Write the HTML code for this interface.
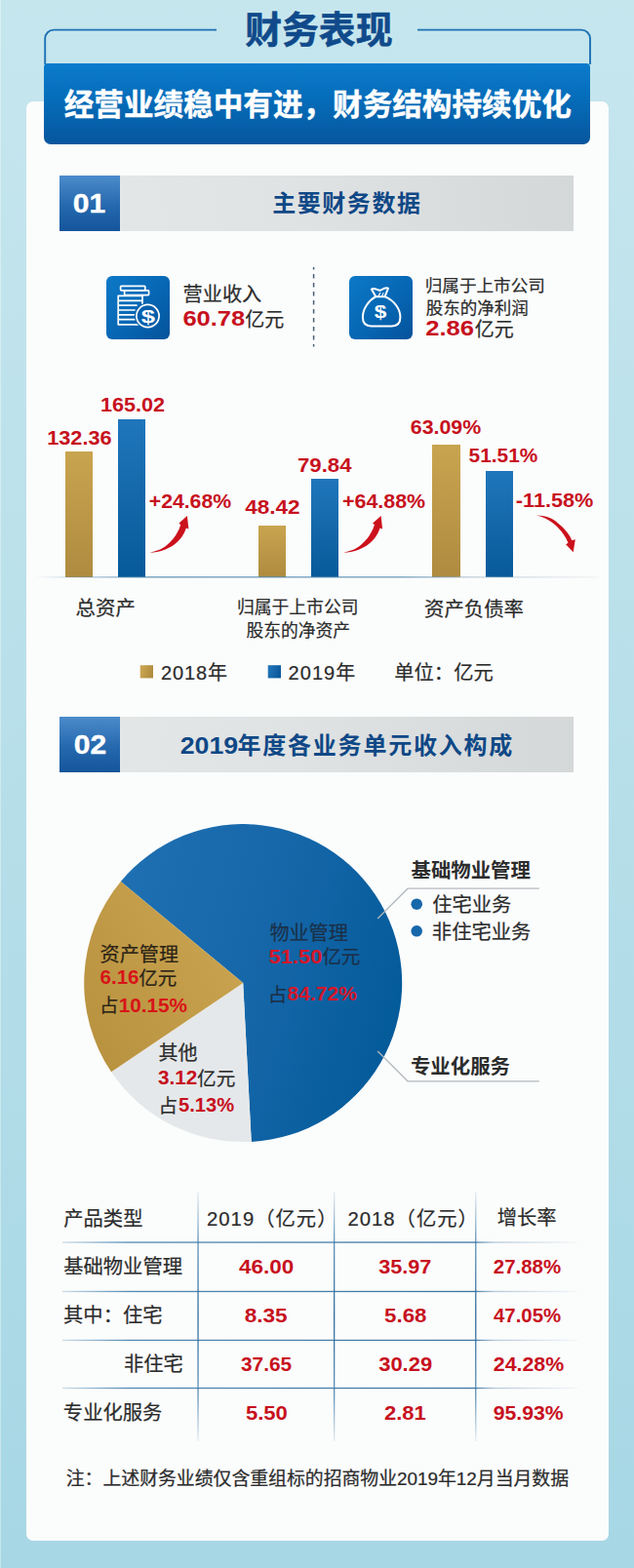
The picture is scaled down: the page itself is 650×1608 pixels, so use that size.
<!DOCTYPE html>
<html lang="zh-CN">
<head>
<meta charset="utf-8">
<title>财务表现</title>
<style>
html,body{margin:0;padding:0}
body{width:650px;height:1608px;position:relative;overflow:hidden;background:linear-gradient(180deg,#c6e6ee 0%,#a7d7e5 100%);font-family:"Liberation Sans",sans-serif}
.card{position:absolute;left:27.2px;top:104px;width:597.3px;height:1475.6px;border-radius:7px;background:#fbfcfc}
.banner{position:absolute;left:45.2px;top:64.8px;width:560px;height:83px;border-radius:4px 4px 7px 7px;background:linear-gradient(180deg,#0c7ccc 0%,#056cb9 45%,#07569d 100%)}
.sec{position:absolute;left:61.4px;width:526.6px;height:57.2px;background:linear-gradient(90deg,#e4e7e8 0%,#e0e3e4 45%,#d5d8d9 100%)}
.sec i{position:absolute;left:0;top:0;width:62.1px;height:57.2px;background:linear-gradient(180deg,#4c8bcb 0%,#2468ad 55%,#15559b 100%)}
.ico{position:absolute;top:283px;width:64.5px;height:64.5px;border-radius:6px;background:linear-gradient(135deg,#0d79c7 0%,#0666b3 55%,#06529a 100%)}
.bar{position:absolute}
.gold{background:linear-gradient(180deg,#c9a44f 0%,#ae8b40 100%)}
.blue{background:linear-gradient(180deg,#2076bb 0%,#075a99 100%)}
.t{position:absolute;color:transparent;white-space:nowrap;line-height:1;margin:0;pointer-events:none}
svg.ov{position:absolute;left:0;top:0}
svg.ov text{font-family:"Liberation Sans","Noto Sans CJK SC",sans-serif}
svg.ov text.b{font-weight:bold}
svg.ov text.n{font-weight:bold;fill:#c7111e}
</style>
</head>
<body>
<div style="position:absolute;left:0;top:0;width:1.2px;height:1608px;background:rgba(255,255,255,.35)"></div>
<div class="card"></div>
<div class="banner"></div>
<div class="sec" style="top:179.5px"><i></i></div>
<div class="sec" style="top:734.8px"><i></i></div>
<div class="ico" style="left:109px"></div>
<div class="ico" style="left:358.3px"></div>
<div class="bar gold" style="left:66.9px;top:463.4px;width:28.2px;height:128.4px"></div>
<div class="bar blue" style="left:121.0px;top:430.4px;width:28.0px;height:161.4px"></div>
<div class="bar gold" style="left:264.7px;top:539.0px;width:28.2px;height:52.8px"></div>
<div class="bar blue" style="left:319.2px;top:490.6px;width:28.0px;height:101.2px"></div>
<div class="bar gold" style="left:443.4px;top:456.0px;width:28.2px;height:135.8px"></div>
<div class="bar blue" style="left:497.7px;top:483.2px;width:28.3px;height:108.6px"></div>
<svg class="ov" width="650" height="1608" viewBox="0 0 650 1608">
<defs>
<linearGradient id="bl" gradientUnits="userSpaceOnUse" x1="36" y1="0" x2="614" y2="0"><stop offset="0" stop-color="#4c86ad" stop-opacity="0"/><stop offset="0.2" stop-color="#4c86ad" stop-opacity="0.85"/><stop offset="0.65" stop-color="#4c86ad" stop-opacity="0.8"/><stop offset="0.78" stop-color="#9fb4c2" stop-opacity="0.6"/><stop offset="1" stop-color="#9fb4c2" stop-opacity="0.1"/></linearGradient>
<linearGradient id="ar" gradientUnits="userSpaceOnUse" x1="160" y1="545" x2="185" y2="565"><stop offset="0" stop-color="#d7121d"/><stop offset="1" stop-color="#b00d18"/></linearGradient>
<linearGradient id="lg1" x1="0" y1="0" x2="1" y2="0.3"><stop offset="0" stop-color="#cfaa55"/><stop offset="1" stop-color="#b08c3e"/></linearGradient>
<linearGradient id="lg2" x1="0" y1="0" x2="1" y2="0.3"><stop offset="0" stop-color="#2378bd"/><stop offset="1" stop-color="#0c5a9c"/></linearGradient>
<linearGradient id="pb" gradientUnits="userSpaceOnUse" x1="110" y1="930" x2="415" y2="1020"><stop offset="0" stop-color="#1f70b2"/><stop offset="0.5" stop-color="#1667a9"/><stop offset="1" stop-color="#045b9a"/></linearGradient>
<linearGradient id="pg" gradientUnits="userSpaceOnUse" x1="240" y1="990" x2="95" y2="1080"><stop offset="0" stop-color="#c8a24e"/><stop offset="1" stop-color="#b8923f"/></linearGradient>
<linearGradient id="hl" gradientUnits="userSpaceOnUse" x1="64" y1="0" x2="592" y2="0"><stop offset="0" stop-color="#3d7dab" stop-opacity="0.25"/><stop offset="0.13" stop-color="#3d7dab" stop-opacity="0.9"/><stop offset="0.8" stop-color="#336f9f" stop-opacity="0.95"/><stop offset="0.84" stop-color="#6f98b8" stop-opacity="0.5"/><stop offset="1" stop-color="#6f98b8" stop-opacity="0.05"/></linearGradient>
<linearGradient id="vl" gradientUnits="userSpaceOnUse" x1="0" y1="1222" x2="0" y2="1478"><stop offset="0" stop-color="#3b78a6" stop-opacity="0.1"/><stop offset="0.2" stop-color="#3b78a6" stop-opacity="0.8"/><stop offset="0.5" stop-color="#2f6b9b" stop-opacity="1"/><stop offset="0.82" stop-color="#3b78a6" stop-opacity="0.8"/><stop offset="1" stop-color="#3b78a6" stop-opacity="0.1"/></linearGradient>
</defs>
<path d="M46.2 66V39.6a9 9 0 0 1 9-9H222" fill="none" stroke="#1b71b3" stroke-width="1.9"/>
<path d="M428 30.6H596a9 9 0 0 1 9 9V66" fill="none" stroke="#1b71b3" stroke-width="1.9"/>
<line x1="321.6" y1="274.1" x2="321.6" y2="355.5" stroke="#4a5f74" stroke-width="1.5" stroke-dasharray="4.5 4.5" stroke-dashoffset="2.1"/>
<g stroke="#ffffff" stroke-width="1.7" fill="none" stroke-linejoin="round" stroke-linecap="round"><rect x="123.6" y="293.3" width="25.2" height="4.6" rx="0.8"/><rect x="127.6" y="297.9" width="25" height="4.7" rx="0.8"/><path d="M146 302.6V312M121.2 303.3H146V332.8H121.2Z M121.2 308.3H146M121.2 313.1H140M121.2 318H138M121.2 322.8H137.5M121.2 327.7H138.5"/></g>
<circle cx="151.5" cy="324" r="13.6" fill="#0660ab"/>
<circle cx="151.5" cy="324" r="11.6" stroke="#ffffff" stroke-width="1.7" fill="none" stroke-linejoin="round" stroke-linecap="round"/>
<g stroke="#ffffff" stroke-width="2" fill="none" stroke-linejoin="round" stroke-linecap="round"><path d="M385.3 304.2C377.5 308.5 371.9 317 371.9 325.3C371.9 331.4 375 334.4 380.5 334.4H401.8C407.3 334.4 410.4 331.4 410.4 325.3C410.4 317 404.5 308.5 394.6 304.2Z"/><path d="M385.3 304.2L380.9 296.6C384 294.8 386.6 297.6 389.6 297.9C392.4 296.4 395.2 294.4 398 295.6L394.6 304.2"/><path d="M388 303.8L389.8 300.2M391.6 303.8L393 300.6" stroke-width="1.1"/></g>
<rect x="36" y="591.2" width="578" height="1.3" fill="url(#bl)"/>
<path d="M153.4 566.7C157.2 566 160.8 564.9 164.2 563.5C167.8 561.8 171 559.3 173.8 556.5C176.8 553.7 179.4 550.4 181.4 546.8C183 544.1 184.3 541.2 185.2 538.2L183.5 536.5L191.9 529L193.4 542.5L190.9 541.4C189.9 544.4 188.5 547.3 186.8 550C184.7 553 182.1 555.7 179.2 558.1C176.3 560.4 173 562.2 169.5 563.5C166.8 564.6 163.9 565.4 160.9 565.9C158.4 566.4 155.9 566.6 153.4 566.7Z" fill="#cb111c"/>
<path transform="translate(198.7 0)" d="M153.4 566.7C157.2 566 160.8 564.9 164.2 563.5C167.8 561.8 171 559.3 173.8 556.5C176.8 553.7 179.4 550.4 181.4 546.8C183 544.1 184.3 541.2 185.2 538.2L183.5 536.5L191.9 529L193.4 542.5L190.9 541.4C189.9 544.4 188.5 547.3 186.8 550C184.7 553 182.1 555.7 179.2 558.1C176.3 560.4 173 562.2 169.5 563.5C166.8 564.6 163.9 565.4 160.9 565.9C158.4 566.4 155.9 566.6 153.4 566.7Z" fill="#cb111c"/>
<path d="M549.7 528.6C554 528.8 558 529.3 561.5 530.2C566 531.5 569.5 534 572.3 536.7C575.5 539.3 578.5 542 580.9 545.3C583.3 548.2 585.2 551.2 586.3 554.2L589.8 553.2L587.7 566.3L580.1 558.2L582.5 556.8C581.3 553.8 579.7 550.8 577.7 548C575.3 544.5 572.5 541.2 569.1 538.3C566.3 535.8 563 533.5 559.4 531.8C556.3 530.3 553 529.3 549.7 528.6Z" fill="#cb111c"/>
<rect x="143.7" y="682.2" width="13.3" height="13.2" fill="url(#lg1)"/>
<rect x="274.7" y="682.2" width="13.3" height="13.2" fill="url(#lg2)"/>
<path d="M249.2 1008.1 L123.79 903.98 A163 163 0 1 1 257.73 1170.88 Z" fill="url(#pb)"/>
<path d="M249.2 1008.1 L257.73 1170.88 A163 163 0 0 1 114.07 1099.25 Z" fill="#e5e8ea"/>
<path d="M249.2 1008.1 L114.07 1099.25 A163 163 0 0 1 123.79 903.98 Z" fill="url(#pg)"/>
<path d="M387.2 942L418 911.2H552.8" fill="none" stroke="#b3b9bd" stroke-width="1.25"/>
<path d="M387.2 1078L418 1108.8H552.8" fill="none" stroke="#b3b9bd" stroke-width="1.25"/>
<circle cx="427.2" cy="927.2" r="5.8" fill="#1767ab"/>
<circle cx="427.2" cy="954.8" r="5.8" fill="#1767ab"/>
<rect x="64" y="1273.4" width="528" height="1.3" fill="url(#hl)"/>
<rect x="64" y="1323.8" width="528" height="1.3" fill="url(#hl)"/>
<rect x="64" y="1373.8" width="528" height="1.3" fill="url(#hl)"/>
<rect x="64" y="1422.9" width="528" height="1.3" fill="url(#hl)"/>
<rect x="202.4" y="1222" width="1.3" height="256" fill="url(#vl)"/>
<rect x="342.0" y="1222" width="1.3" height="256" fill="url(#vl)"/>
<rect x="487.1" y="1222" width="1.3" height="256" fill="url(#vl)"/>
<text class="b" x="251.25" y="44.35" font-size="37.8" fill="#104a8b" stroke="#104a8b" stroke-width="0.6" stroke-linejoin="round">财务表现</text>
<text class="b" x="65.75" y="117.89" font-size="30.6" fill="#ffffff" stroke="#ffffff" stroke-width="0.4" stroke-linejoin="round">经营业绩稳中有进，财务结构持续优化</text>
<text class="b" x="74.77" y="217.67" font-size="28.3" fill="#ffffff" stroke="#ffffff" stroke-width="0.4" stroke-linejoin="round" textLength="33.4" lengthAdjust="spacingAndGlyphs">01</text>
<text class="b" x="279.15" y="217.38" font-size="24" fill="#0f4886" letter-spacing="1.56">主要财务数据</text>
<text x="187.55" y="309.35" font-size="20.2" fill="#2c2c2c" stroke="#2c2c2c" stroke-width="0.22" stroke-linejoin="round">营业收入</text>
<text class="n" x="187.45" y="333.89" font-size="21.2" textLength="63.8" lengthAdjust="spacingAndGlyphs">60.78</text>
<text x="251.18" y="335.10" font-size="20" fill="#2c2c2c" stroke="#2c2c2c" stroke-width="0.22" stroke-linejoin="round">亿元</text>
<text x="435.70" y="299.32" font-size="17.6" fill="#2c2c2c" stroke="#2c2c2c" stroke-width="0.21" stroke-linejoin="round">归属于上市公司</text>
<text x="436.69" y="321.69" font-size="17.5" fill="#2c2c2c" stroke="#2c2c2c" stroke-width="0.23" stroke-linejoin="round">股东的净利润</text>
<text class="n" x="436.25" y="344.49" font-size="21.2" textLength="49.8" lengthAdjust="spacingAndGlyphs">2.86</text>
<text x="486.78" y="345.20" font-size="20" fill="#2c2c2c" stroke="#2c2c2c" stroke-width="0.22" stroke-linejoin="round">亿元</text>
<text class="b" x="144.74" y="330.70" font-size="18" fill="#ffffff" textLength="14.2" lengthAdjust="spacingAndGlyphs">$</text>
<text class="b" x="383.81" y="326.30" font-size="18" fill="#ffffff" textLength="12.6" lengthAdjust="spacingAndGlyphs">$</text>
<text class="n" x="48.28" y="455.88" font-size="19.3" textLength="66.3" lengthAdjust="spacingAndGlyphs">132.36</text>
<text class="n" x="102.98" y="422.48" font-size="19.3" textLength="66.0" lengthAdjust="spacingAndGlyphs">165.02</text>
<text class="n" x="152.75" y="521.18" font-size="19.3" textLength="84.3" lengthAdjust="spacingAndGlyphs">+24.68%</text>
<text class="n" x="251.15" y="527.28" font-size="19.3" textLength="56.4" lengthAdjust="spacingAndGlyphs">48.42</text>
<text class="n" x="304.99" y="483.68" font-size="19.3" textLength="55.5" lengthAdjust="spacingAndGlyphs">79.84</text>
<text class="n" x="351.04" y="521.08" font-size="19.3" textLength="85.0" lengthAdjust="spacingAndGlyphs">+64.88%</text>
<text class="n" x="420.82" y="445.48" font-size="19.3" textLength="72.3" lengthAdjust="spacingAndGlyphs">63.09%</text>
<text class="n" x="480.63" y="473.98" font-size="19.3" textLength="70.6" lengthAdjust="spacingAndGlyphs">51.51%</text>
<text class="n" x="528.84" y="520.08" font-size="19.3" textLength="79.5" lengthAdjust="spacingAndGlyphs">-11.58%</text>
<text x="77.62" y="631.49" font-size="20.4" fill="#2c2c2c" stroke="#2c2c2c" stroke-width="0.22" stroke-linejoin="round">总资产</text>
<text x="242.98" y="629.30" font-size="17.8" fill="#2c2c2c" stroke="#2c2c2c" stroke-width="0.21" stroke-linejoin="round">归属于上市公司</text>
<text x="252.38" y="652.56" font-size="17.8" fill="#2c2c2c" stroke="#2c2c2c" stroke-width="0.21" stroke-linejoin="round">股东的净资产</text>
<text x="435.00" y="631.55" font-size="20.4" fill="#2c2c2c" stroke="#2c2c2c" stroke-width="0.22" stroke-linejoin="round">资产负债率</text>
<text x="165.00" y="696.94" font-size="20" fill="#2c2c2c" stroke="#2c2c2c" stroke-width="0.22" stroke-linejoin="round" textLength="68.1">2018年</text>
<text x="295.60" y="696.94" font-size="20" fill="#2c2c2c" stroke="#2c2c2c" stroke-width="0.22" stroke-linejoin="round" textLength="68.6">2019年</text>
<text x="404.30" y="697.10" font-size="20.3" fill="#2c2c2c" stroke="#2c2c2c" stroke-width="0.22" stroke-linejoin="round">单位：亿元</text>
<text class="b" x="75.80" y="773.27" font-size="28.3" fill="#ffffff" stroke="#ffffff" stroke-width="0.4" stroke-linejoin="round" textLength="33.4" lengthAdjust="spacingAndGlyphs">02</text>
<text class="b" x="184.72" y="773.40" font-size="24.6" fill="#0f4886" textLength="59.4" lengthAdjust="spacingAndGlyphs">2019</text>
<text class="b" x="243.51" y="773.10" font-size="24" fill="#0f4886" letter-spacing="1.78">年度各业务单元收入构成</text>
<text x="276.42" y="964.07" font-size="20.1" fill="#1b3049" stroke="#1b3049" stroke-width="0.22" stroke-linejoin="round">物业管理</text>
<text class="b" x="275.41" y="987.78" font-size="19.3" fill="#d5172a" textLength="55.1" lengthAdjust="spacingAndGlyphs">51.50</text>
<text x="330.29" y="988.25" font-size="19.6" fill="#1b3049" stroke="#1b3049" stroke-width="0.22" stroke-linejoin="round">亿元</text>
<text x="274.66" y="1026.66" font-size="19.6" fill="#1b3049" stroke="#1b3049" stroke-width="0.22" stroke-linejoin="round">占</text>
<text class="b" x="294.49" y="1026.38" font-size="19.3" fill="#d5172a" textLength="71.4" lengthAdjust="spacingAndGlyphs">84.72%</text>
<text x="102.62" y="986.41" font-size="20.1" fill="#2c2417" stroke="#2c2417" stroke-width="0.22" stroke-linejoin="round">资产管理</text>
<text class="b" x="102.56" y="1009.38" font-size="19.3" fill="#d81418" textLength="40.0" lengthAdjust="spacingAndGlyphs">6.16</text>
<text x="142.30" y="1009.81" font-size="19.5" fill="#2c2417" stroke="#2c2417" stroke-width="0.21" stroke-linejoin="round">亿元</text>
<text x="101.88" y="1038.22" font-size="19.5" fill="#2c2417" stroke="#2c2417" stroke-width="0.21" stroke-linejoin="round">占</text>
<text class="b" x="121.65" y="1038.28" font-size="19.3" fill="#d81418" textLength="70.3" lengthAdjust="spacingAndGlyphs">10.15%</text>
<text x="162.60" y="1087.31" font-size="20" fill="#2c2c2c" stroke="#2c2c2c" stroke-width="0.22" stroke-linejoin="round">其他</text>
<text class="n" x="161.96" y="1112.28" font-size="19.3" textLength="40.2" lengthAdjust="spacingAndGlyphs">3.12</text>
<text x="202.09" y="1112.65" font-size="19.6" fill="#2c2c2c" stroke="#2c2c2c" stroke-width="0.22" stroke-linejoin="round">亿元</text>
<text x="162.46" y="1140.66" font-size="19.6" fill="#2c2c2c" stroke="#2c2c2c" stroke-width="0.22" stroke-linejoin="round">占</text>
<text class="n" x="183.05" y="1140.38" font-size="19.3" textLength="57.0" lengthAdjust="spacingAndGlyphs">5.13%</text>
<text class="b" x="421.53" y="900.01" font-size="20.4" fill="#2c2c2c">基础物业管理</text>
<text class="b" x="420.98" y="1100.75" font-size="20.4" fill="#2c2c2c">专业化服务</text>
<text x="443.27" y="935.24" font-size="20.3" fill="#2c2c2c" stroke="#2c2c2c" stroke-width="0.22" stroke-linejoin="round">住宅业务</text>
<text x="442.86" y="962.62" font-size="20.3" fill="#2c2c2c" stroke="#2c2c2c" stroke-width="0.22" stroke-linejoin="round">非住宅业务</text>
<text x="65.29" y="1256.65" font-size="20.3" fill="#2c2c2c" stroke="#2c2c2c" stroke-width="0.22" stroke-linejoin="round">产品类型</text>
<text x="211.99" y="1256.51" font-size="20.3" fill="#2c2c2c" stroke="#2c2c2c" stroke-width="0.22" stroke-linejoin="round" textLength="133.5">2019（亿元）</text>
<text x="356.39" y="1256.51" font-size="20.3" fill="#2c2c2c" stroke="#2c2c2c" stroke-width="0.22" stroke-linejoin="round" textLength="133.5">2018（亿元）</text>
<text x="509.77" y="1256.19" font-size="20.3" fill="#2c2c2c" stroke="#2c2c2c" stroke-width="0.22" stroke-linejoin="round">增长率</text>
<text x="65.27" y="1306.44" font-size="20.3" fill="#2c2c2c" stroke="#2c2c2c" stroke-width="0.22" stroke-linejoin="round">基础物业管理</text>
<text class="n" x="245.06" y="1305.88" font-size="19.3" textLength="56.2" lengthAdjust="spacingAndGlyphs">46.00</text>
<text class="n" x="388.23" y="1305.88" font-size="19.3" textLength="54.1" lengthAdjust="spacingAndGlyphs">35.97</text>
<text class="n" x="505.79" y="1305.88" font-size="19.3" textLength="69.3" lengthAdjust="spacingAndGlyphs">27.88%</text>
<text x="65.09" y="1356.33" font-size="20.3" fill="#2c2c2c" stroke="#2c2c2c" stroke-width="0.22" stroke-linejoin="round">其中：住宅</text>
<text class="n" x="250.73" y="1355.68" font-size="19.3" textLength="43.9" lengthAdjust="spacingAndGlyphs">8.35</text>
<text class="n" x="394.10" y="1355.68" font-size="19.3" textLength="43.3" lengthAdjust="spacingAndGlyphs">5.68</text>
<text class="n" x="506.00" y="1355.68" font-size="19.3" textLength="69.1" lengthAdjust="spacingAndGlyphs">47.05%</text>
<text x="126.88" y="1406.22" font-size="20.3" fill="#2c2c2c" stroke="#2c2c2c" stroke-width="0.22" stroke-linejoin="round">非住宅</text>
<text class="n" x="247.05" y="1405.58" font-size="19.3" textLength="52.0" lengthAdjust="spacingAndGlyphs">37.65</text>
<text class="n" x="388.23" y="1405.58" font-size="19.3" textLength="54.9" lengthAdjust="spacingAndGlyphs">30.29</text>
<text class="n" x="505.77" y="1405.58" font-size="19.3" textLength="72.4" lengthAdjust="spacingAndGlyphs">24.28%</text>
<text x="64.86" y="1456.12" font-size="20.3" fill="#2c2c2c" stroke="#2c2c2c" stroke-width="0.22" stroke-linejoin="round">专业化服务</text>
<text class="n" x="251.91" y="1455.58" font-size="19.3" textLength="42.9" lengthAdjust="spacingAndGlyphs">5.50</text>
<text class="n" x="393.95" y="1455.58" font-size="19.3" textLength="42.8" lengthAdjust="spacingAndGlyphs">2.81</text>
<text class="n" x="505.68" y="1455.58" font-size="19.3" textLength="71.9" lengthAdjust="spacingAndGlyphs">95.93%</text>
<text x="67.71" y="1522.79" font-size="18.9" fill="#2c2c2c" stroke="#2c2c2c" stroke-width="0.23" stroke-linejoin="round" textLength="515.4">注：上述财务业绩仅含重组标的招商物业2019年12月当月数据</text>
</svg>
<div class="t" style="left:252px;top:11px;font-size:38px">财务表现</div>
<div class="t" style="left:66px;top:91px;font-size:31px">经营业绩稳中有进，财务结构持续优化</div>
<div class="t" style="left:76px;top:193px;font-size:28px">01</div>
<div class="t" style="left:280px;top:196px;font-size:24px">主要财务数据</div>
<div class="t" style="left:189px;top:292px;font-size:20px">营业收入</div>
<div class="t" style="left:188px;top:315px;font-size:21px">60.78</div>
<div class="t" style="left:252px;top:318px;font-size:20px">亿元</div>
<div class="t" style="left:437px;top:284px;font-size:18px">归属于上市公司</div>
<div class="t" style="left:437px;top:306px;font-size:18px">股东的净利润</div>
<div class="t" style="left:437px;top:326px;font-size:21px">2.86</div>
<div class="t" style="left:487px;top:328px;font-size:20px">亿元</div>
<div class="t" style="left:146px;top:315px;font-size:18px">$</div>
<div class="t" style="left:385px;top:310px;font-size:18px">$</div>
<div class="t" style="left:50px;top:439px;font-size:19px">132.36</div>
<div class="t" style="left:104px;top:405px;font-size:19px">165.02</div>
<div class="t" style="left:154px;top:504px;font-size:19px">+24.68%</div>
<div class="t" style="left:252px;top:510px;font-size:19px">48.42</div>
<div class="t" style="left:306px;top:467px;font-size:19px">79.84</div>
<div class="t" style="left:352px;top:504px;font-size:19px">+64.88%</div>
<div class="t" style="left:422px;top:428px;font-size:19px">63.09%</div>
<div class="t" style="left:481px;top:457px;font-size:19px">51.51%</div>
<div class="t" style="left:530px;top:503px;font-size:19px">-11.58%</div>
<div class="t" style="left:78px;top:614px;font-size:20px">总资产</div>
<div class="t" style="left:245px;top:614px;font-size:18px">归属于上市公司</div>
<div class="t" style="left:253px;top:637px;font-size:18px">股东的净资产</div>
<div class="t" style="left:436px;top:614px;font-size:20px">资产负债率</div>
<div class="t" style="left:166px;top:679px;font-size:20px">2018年</div>
<div class="t" style="left:296px;top:679px;font-size:20px">2019年</div>
<div class="t" style="left:405px;top:679px;font-size:20px">单位：亿元</div>
<div class="t" style="left:77px;top:748px;font-size:28px">02</div>
<div class="t" style="left:186px;top:752px;font-size:25px">2019</div>
<div class="t" style="left:244px;top:752px;font-size:24px">年度各业务单元收入构成</div>
<div class="t" style="left:277px;top:946px;font-size:20px">物业管理</div>
<div class="t" style="left:276px;top:971px;font-size:19px">51.50</div>
<div class="t" style="left:331px;top:971px;font-size:20px">亿元</div>
<div class="t" style="left:278px;top:1009px;font-size:20px">占</div>
<div class="t" style="left:295px;top:1009px;font-size:19px">84.72%</div>
<div class="t" style="left:104px;top:969px;font-size:20px">资产管理</div>
<div class="t" style="left:103px;top:992px;font-size:19px">6.16</div>
<div class="t" style="left:143px;top:993px;font-size:20px">亿元</div>
<div class="t" style="left:105px;top:1021px;font-size:20px">占</div>
<div class="t" style="left:123px;top:1021px;font-size:19px">10.15%</div>
<div class="t" style="left:164px;top:1070px;font-size:20px">其他</div>
<div class="t" style="left:162px;top:1095px;font-size:19px">3.12</div>
<div class="t" style="left:203px;top:1095px;font-size:20px">亿元</div>
<div class="t" style="left:166px;top:1123px;font-size:20px">占</div>
<div class="t" style="left:184px;top:1123px;font-size:19px">5.13%</div>
<div class="t" style="left:422px;top:882px;font-size:20px">基础物业管理</div>
<div class="t" style="left:422px;top:1083px;font-size:20px">专业化服务</div>
<div class="t" style="left:444px;top:917px;font-size:20px">住宅业务</div>
<div class="t" style="left:444px;top:945px;font-size:20px">非住宅业务</div>
<div class="t" style="left:66px;top:1239px;font-size:20px">产品类型</div>
<div class="t" style="left:213px;top:1239px;font-size:20px">2019（亿元）</div>
<div class="t" style="left:357px;top:1239px;font-size:20px">2018（亿元）</div>
<div class="t" style="left:511px;top:1238px;font-size:20px">增长率</div>
<div class="t" style="left:66px;top:1289px;font-size:20px">基础物业管理</div>
<div class="t" style="left:246px;top:1289px;font-size:19px">46.00</div>
<div class="t" style="left:389px;top:1289px;font-size:19px">35.97</div>
<div class="t" style="left:506px;top:1289px;font-size:19px">27.88%</div>
<div class="t" style="left:66px;top:1338px;font-size:20px">其中：住宅</div>
<div class="t" style="left:252px;top:1339px;font-size:19px">8.35</div>
<div class="t" style="left:395px;top:1339px;font-size:19px">5.68</div>
<div class="t" style="left:506px;top:1339px;font-size:19px">47.05%</div>
<div class="t" style="left:128px;top:1388px;font-size:20px">非住宅</div>
<div class="t" style="left:248px;top:1389px;font-size:19px">37.65</div>
<div class="t" style="left:389px;top:1389px;font-size:19px">30.29</div>
<div class="t" style="left:506px;top:1389px;font-size:19px">24.28%</div>
<div class="t" style="left:66px;top:1438px;font-size:20px">专业化服务</div>
<div class="t" style="left:252px;top:1439px;font-size:19px">5.50</div>
<div class="t" style="left:395px;top:1439px;font-size:19px">2.81</div>
<div class="t" style="left:506px;top:1439px;font-size:19px">95.93%</div>
<div class="t" style="left:68px;top:1506px;font-size:19px">注：上述财务业绩仅含重组标的招商物业2019年12月当月数据</div>
</body>
</html>
